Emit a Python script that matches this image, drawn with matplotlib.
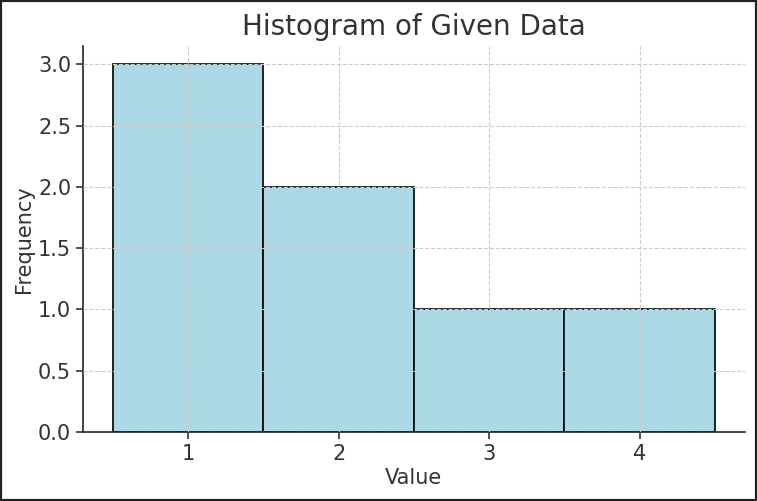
import matplotlib.pyplot as plt
from matplotlib.patches import Rectangle

data = [1, 1, 1, 2, 2, 3, 4]
bins = [0.5, 1.5, 2.5, 3.5, 4.5]
xticks = [1, 2, 3, 4]

fig = plt.figure(figsize=(7.57, 5.01), dpi=100)
ax = fig.add_axes([0.1096, 0.1377, 0.8744, 0.7703])

ax.hist(data, bins=bins, color='lightblue', edgecolor='black', linewidth=1.2)
ax.set_xticks(xticks)
ax.set_axisbelow(False)
ax.grid(True, linestyle='--', color='#cccccc', linewidth=0.8)

ax.set_title('Histogram of Given Data', fontsize=20, color='#333333', pad=8)
ax.set_xlabel('Value', fontsize=15, color='#333333', labelpad=3)
ax.set_ylabel('Frequency', fontsize=15, color='#333333', labelpad=3)
ax.tick_params(labelsize=15, colors='#333333', length=5, width=1.2)
for s in ['top', 'right']:
    ax.spines[s].set_visible(False)
for s in ['left', 'bottom']:
    ax.spines[s].set_color('#222222')
    ax.spines[s].set_linewidth(1.2)

fig.patches.append(Rectangle((0, 0), 1, 1, transform=fig.transFigure,
                             fill=False, edgecolor='#222222', linewidth=3))

fig.savefig('out.png', dpi=100)
